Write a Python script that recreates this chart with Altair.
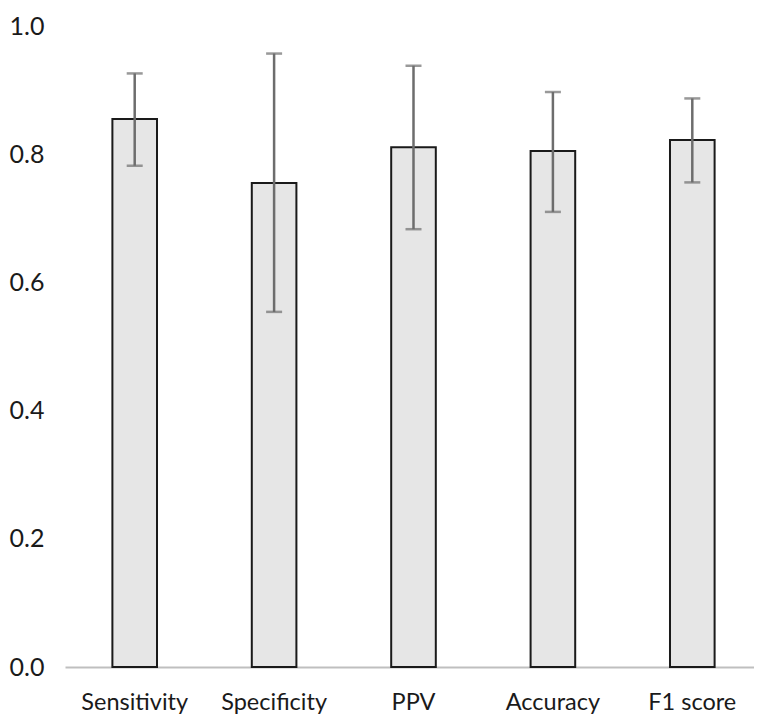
import altair as alt
import pandas as pd

categories = ["Sensitivity", "Specificity", "PPV", "Accuracy", "F1 score"]
means = [0.855, 0.755, 0.811, 0.805, 0.822]
lower = [0.782, 0.554, 0.683, 0.710, 0.756]
upper = [0.926, 0.957, 0.938, 0.897, 0.887]
y_ticks = [0.0, 0.2, 0.4, 0.6, 0.8, 1.0]

df = pd.DataFrame({"metric": categories, "mean": means, "lo": lower, "hi": upper})

FONT = "Lato"

x_scale = alt.Scale(paddingInner=0.68, paddingOuter=0.34, range=[0, 697])
y_scale = alt.Scale(domain=[0, 1], nice=False, zero=True)

x_axis = alt.Axis(
    labelAngle=0,
    labelFont=FONT,
    labelFontSize=23.5,
    labelColor="#1a1a1a",
    labelPadding=23,
    ticks=False,
    domainColor="#bfbfbf",
    domainWidth=2,
    grid=False,
)
y_axis = alt.Axis(
    values=y_ticks,
    format=".1f",
    labelFont=FONT,
    labelFontSize=25,
    labelColor="#1a1a1a",
    labelPadding=21,
    ticks=False,
    domain=False,
    grid=False,
)

bars = alt.Chart(df).mark_bar(
    fill="#e6e6e6", stroke="#1a1a1a", strokeWidth=2
).encode(
    x=alt.X("metric:N", sort=categories, title=None, scale=x_scale, axis=x_axis),
    y=alt.Y("mean:Q", scale=y_scale, title=None, axis=y_axis),
)

rules = alt.Chart(df).mark_rule(color="#6d6d6d", strokeWidth=2.5).encode(
    x=alt.X("metric:N", sort=categories, title=None),
    y=alt.Y("lo:Q", title=None),
    y2="hi:Q",
)

caps_hi = alt.Chart(df).mark_tick(color="#6d6d6d", thickness=2.5, size=16).encode(
    x=alt.X("metric:N", sort=categories, title=None),
    y=alt.Y("hi:Q", title=None),
)
caps_lo = alt.Chart(df).mark_tick(color="#6d6d6d", thickness=2.5, size=16).encode(
    x=alt.X("metric:N", sort=categories, title=None),
    y=alt.Y("lo:Q", title=None),
)

chart = (
    alt.layer(bars, rules, caps_hi, caps_lo)
    .properties(
        width=689,
        height=641,
        autosize=alt.AutoSizeParams(type="none"),
        padding={"left": 57, "top": 18, "right": 0, "bottom": 48},
    )
    .configure(background="white")
    .configure_view(strokeWidth=0, stroke="transparent")
    .configure_axisY(domain=False, ticks=False, grid=False)
    .configure_axisX(ticks=False, grid=False)
)

chart.save("out.html", embed_options={"renderer": "svg", "actions": False})
